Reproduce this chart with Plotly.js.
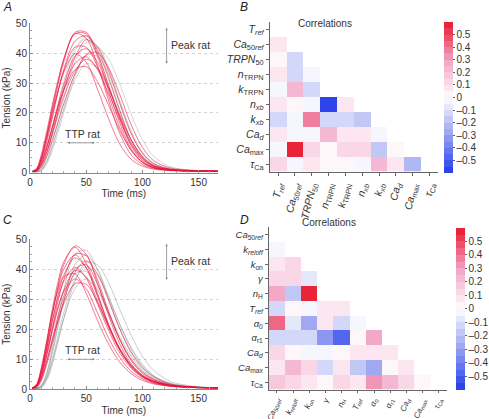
<!DOCTYPE html>
<html><head><meta charset="utf-8">
<script src="https://cdn.plot.ly/plotly-3.0.1.min.js"></script>
<style>html,body{margin:0;padding:0;background:#fff;}#g{width:489px;height:419px;}</style>
</head><body><div id="g"></div>
<script>
// ---------- DATA ----------
const timeMs = [2,6,10,15,20,25,30,40,50,60,70,80,90,100,110,125,145,167];

// Panel A – rat model fitted (red) and reference (grey) tension transients (kPa)
const redA = [
 [0.4,1.5,6,14,23,31,38,46.5,45,36,24,13,6,2.8,1.4,0.8,0.5,0.45],
 [0.4,1,4.5,12,21,29.5,37,47,47,40,29,18,9,4,1.8,0.9,0.6,0.5],
 [0.4,0.7,3,8.5,15.5,23,29.5,39,41.5,37,28.5,18.5,10,4.8,2.2,1,0.6,0.5],
 [0.4,0.6,2.5,7,13,19.5,25.5,34,38,35,28,19,11,5.5,2.5,1.1,0.6,0.5],
 [0.4,0.6,2.2,7,13.5,20.5,27.5,38.5,44.5,42,34,23,13,6.5,3,1.2,0.7,0.5],
 [0.4,1.2,5,12.5,20.5,27.5,33.5,39.8,37,28,18,9.5,4.5,2.2,1.2,0.7,0.5,0.45],
 [0.4,0.9,3.8,10.5,18.5,27,34.5,44,45.8,41,31.5,20.5,11,5.2,2.3,1,0.6,0.5],
 [0.4,0.9,3.5,9,15.5,22,27.5,34.5,35.5,30.5,22.5,14,7.5,3.5,1.7,0.9,0.6,0.5],
 [0.4,1.1,4.6,11.5,19.5,27.5,34,42,42,35.5,25.5,15,7.5,3.4,1.6,0.8,0.5,0.45],
 [0.4,0.5,1.8,5.5,11,17,23,33,39.5,40.2,35,26,16,8.5,4,1.6,0.8,0.5],
 [0.4,1.2,5,13,22,30.5,38,46.5,46.5,39,27.5,16.5,8,3.6,1.7,0.9,0.6,0.5],
 [0.4,0.8,3.2,8.5,15,22,28,36.5,38.8,34.5,26.5,17.5,9.5,4.6,2.1,1,0.6,0.5]
];
const greyA = [
 [0.3,0.3,0.8,4,10,17,24.5,37,43.5,42.5,35,24,13.5,6.5,3,1.2,0.6,0.5],
 [0.3,0.3,0.7,3.5,8.5,15,21.5,33,39.2,39,33,23.5,14,7,3.2,1.3,0.7,0.5],
 [0.3,0.4,1.2,5.5,12.5,20.5,28.5,40.5,45.8,42,32.5,21,11,5,2.3,1,0.6,0.5],
 [0.3,0.3,0.9,4,9,15,21,31,36.5,35,28.5,19.5,11,5.3,2.4,1,0.6,0.5],
 [0.3,0.3,0.6,3,7.5,13.5,20,32,39.5,41.8,38,29.5,19.5,11,5.5,2,0.8,0.5],
 [0.3,0.4,1.5,6.5,14,22.5,30.5,41.5,44.8,39.5,29.5,18.5,9.5,4.3,2,0.9,0.6,0.5]
];

// Panel C – human model fitted (red) and reference (grey) tension transients (kPa)
const redC = [
 [0.4,1.5,6.5,16,27,36,42.5,47.3,42,32,21.5,13,7.5,4.2,2.4,1.2,0.6,0.45],
 [0.4,1.2,5,13.5,23,31.5,38,43.8,40.5,31.5,21.5,13.5,8,4.5,2.6,1.3,0.7,0.5],
 [0.4,1,4.2,11.5,19.5,27,33,39.6,37.5,29.5,20.5,13,7.8,4.5,2.6,1.3,0.7,0.5],
 [0.4,1,4,11.5,20.5,29.5,36.5,45,44.5,36.5,26,16.5,9.5,5.3,3,1.4,0.7,0.5],
 [0.4,1.3,5,12.5,20.5,27.5,32.5,36.8,33.5,25.5,17,10.5,6,3.5,2,1,0.6,0.45],
 [0.4,1.3,5.5,14.5,25,34.5,41.5,47.8,45,35.5,24.5,15,8.5,4.7,2.7,1.3,0.7,0.5],
 [0.4,0.8,3.3,9.5,17,24.5,31,40,41.5,35,25.5,16.5,10,5.8,3.3,1.5,0.7,0.5],
 [0.4,1.8,7,16.5,26,33,37.5,38.5,32,23,15,9,5.2,3,1.8,1,0.6,0.45],
 [0.4,1.6,6.5,15.5,25.5,34,40,44.8,40.5,31,21,13,7.5,4.2,2.4,1.2,0.6,0.45],
 [0.4,0.7,2.8,8.5,15.5,23,29.5,39,42.8,38.5,29.5,20,12.5,7.3,4.2,1.8,0.8,0.5],
 [0.4,0.9,3.6,9.5,16.5,23,28.5,35.2,35,29,21,13.5,8,4.6,2.6,1.3,0.7,0.5],
 [0.4,1.4,5.8,14,23,30.5,36,40.6,37,28.5,19.5,12,7,4,2.3,1.1,0.6,0.45]
];
const greyC = [
 [0.3,0.3,0.8,4.5,12,21,29.5,41.5,44.8,40,31,21.5,13.5,7.8,4.3,1.8,0.8,0.5],
 [0.3,0.3,0.7,3.8,10,18,25.5,36.5,40.8,38,30.5,21.5,14,8.3,4.6,2,0.9,0.5],
 [0.3,0.4,1.2,5.5,14,24,33,45,46.3,40,30,20,12,6.8,3.8,1.6,0.7,0.5],
 [0.3,0.3,0.8,3.8,9.5,16.5,23.5,33.5,36.8,33,25.5,17.5,11,6.3,3.5,1.5,0.7,0.5],
 [0.3,0.3,0.6,3,8.5,16,23.5,36,42.2,41.5,35.5,26.5,18,11,6.3,2.6,1,0.5],
 [0.3,0.4,1.3,5.5,13,21.5,29,38.5,39.2,33.5,25,16.5,10,5.7,3.2,1.4,0.7,0.5]
];

// Panel B – correlation matrix (lower triangle)
const paramsB = ['<i>T</i><sub><i>ref</i></sub>','<i>Ca</i><sub>50<i>ref</i></sub>','<i>TRPN</i><sub>50</sub>',
 '<i>n</i><sub>TRPN</sub>','<i>k</i><sub>TRPN</sub>','<i>n</i><sub><i>xb</i></sub>','<i>k</i><sub><i>xb</i></sub>',
 '<i>Ca</i><sub><i>d</i></sub>','<i>Ca</i><sub>max</sub>','<i>τ</i><sub>Ca</sub>'];
const corrB = [
 [],
 [0.1],
 [0,-0.1],
 [0.1,-0.1,-0.05],
 [-0.03,0.2,-0.1],
 [0.1,0,-0.05,-0.57,0.08],
 [-0.1,-0.03,0.35,-0.1,-0.15,-0.2],
 [0.08,-0.02,-0.02,0.2,0.1,0.1,-0.05],
 [-0.02,0.59,0.12,0,0.15,0.12,-0.2,0],
 [0.12,-0.05,0.05,0.04,0,-0.03,0.2,0.06,-0.22]
];

// Panel D – correlation matrix (lower triangle)
const paramsD = ['<i>Ca</i><sub>50<i>ref</i></sub>','<i>k</i><sub><i>reloff</i></sub>','<i>k</i><sub>on</sub>','<i>γ</i>',
 '<i>n</i><sub>H</sub>','<i>T</i><sub><i>ref</i></sub>','<i>α</i><sub>0</sub>','<i>α</i><sub>r1</sub>',
 '<i>Ca</i><sub><i>d</i></sub>','<i>Ca</i><sub>max</sub>','<i>τ</i><sub>Ca</sub>'];
const corrD = [
 [],
 [-0.03],
 [0.08,0.12],
 [0.12,0.12,-0.08],
 [0.25,-0.2,0.59],
 [-0.1,0,-0.02,0.08,0.08],
 [0.4,-0.08,-0.25,0.05,-0.12,-0.03],
 [-0.1,-0.1,-0.15,-0.35,-0.5,0,0.28],
 [0.12,0.03,-0.03,-0.05,0,0.06,0.08,0.05],
 [0.06,0.2,0.12,-0.15,0.08,-0.2,-0.28,0,0.08],
 [0.18,0.15,0.05,0.04,0.12,0.05,0.3,0.2,0.15,0]
];
const cbTicks = [-0.5,-0.4,-0.3,-0.2,-0.1,0,0.1,0.2,0.3,0.4,0.5];

// ---------- BUILD ----------
const W = 489, H = 419;
const px = (a,b) => [a/W, b/W];
const py = (top,bottom) => [(H-bottom)/H, (H-top)/H];
const FONT = 'Liberation Sans, Arial, sans-serif';
const TXT = '#333';

// discrete blue-white-red colour scale, 24 bands between -0.6 and 0.6
const anchors = [[-0.6,[35,60,235]],[-0.3,[150,160,240]],[0,[255,255,255]],[0.3,[242,160,195]],[0.6,[232,25,45]]];
function colAt(v){
  for(let i=0;i<anchors.length-1;i++){
    const [v0,c0]=anchors[i],[v1,c1]=anchors[i+1];
    if(v>=v0 && v<=v1){const f=(v-v0)/(v1-v0);
      return 'rgb('+c0.map((c,k)=>Math.round(c+(c1[k]-c)*f)).join(',')+')';}
  }
  return 'rgb(255,255,255)';
}
const nb = 24, cs = [];
for(let i=0;i<nb;i++){
  const c = colAt(-0.6 + (i+0.5)*1.2/nb);
  cs.push([i/nb, c]); cs.push([(i+1)/nb, c]);
}

function fullMatrix(rows,n){
  return rows.map(r => { const a=[]; for(let j=0;j<n;j++) a.push(j<r.length? r[j] : null); return a; });
}

const traces = [];
function addCurves(arr, color, op, xa, ya, w){
  arr.forEach(v => traces.push({x: timeMs, y: v, type:'scatter', mode:'lines', xaxis:xa, yaxis:ya,
    line:{color:color, width:w, shape:'spline', smoothing:0.9}, opacity:op, hoverinfo:'skip', showlegend:false}));
}
addCurves(greyA,'rgb(135,145,145)',0.4,'x','y',0.9);
addCurves(redA,'rgb(232,20,60)',0.6,'x','y',0.95);
addCurves(greyC,'rgb(135,145,145)',0.5,'x3','y3',0.9);
addCurves(redC,'rgb(232,20,60)',0.6,'x3','y3',0.95);

function heat(params, rows, xa, ya, cbx, cby, cblen){
  const n = params.length, idx = params.map((_,i)=>i);
  return {type:'heatmap', x: idx, y: idx, z: fullMatrix(rows,n), xaxis:xa, yaxis:ya,
    zmin:-0.6, zmax:0.6, colorscale: cs, hoverinfo:'skip', xgap:0, ygap:0,
    colorbar:{x:cbx, xanchor:'left', y:cby, yanchor:'middle', len:cblen, lenmode:'fraction',
      thickness:9, thicknessmode:'pixels', outlinewidth:0, ticks:'outside', ticklen:2, tickcolor:'#666',
      tickvals: cbTicks, ticktext: cbTicks.map(v => v===0?'0':(v<0?'\u2013'+Math.abs(v):String(v))),
      tickfont:{size:10, color:TXT, family:FONT}, ypad:0, xpad:0}};
}
traces.push(heat(paramsB, corrB, 'x2','y2', 449/W, (H-97.5)/H, 151/H));
traces.push(heat(paramsD, corrD, 'x4','y4', 460.5/W, (H-308.6)/H, 162.3/H));

function lineAxisX(dom, anchor){
  return {domain:dom, anchor:anchor, range:[0,167], showgrid:false, zeroline:false,
    showline:true, linecolor:'#888', linewidth:1, ticks:'inside', ticklen:3, tickcolor:'#888',
    tickvals:[0,50,100,150], tickfont:{size:10, color:TXT, family:FONT},
    minor:{dtick:10, ticks:'inside', ticklen:2, tickcolor:'#aaa'},
    title:{text:'Time (ms)', font:{size:10, color:TXT, family:FONT}, standoff:3}, automargin:false};
}
function lineAxisY(dom, anchor){
  return {domain:dom, anchor:anchor, range:[0,50], showgrid:true, gridcolor:'#d2d2d2', griddash:'dot', gridwidth:1,
    zeroline:false, showline:true, linecolor:'#888', linewidth:1, ticks:'inside', ticklen:3, tickcolor:'#888',
    tickvals:[0,10,20,30,40,50], tickfont:{size:10, color:TXT, family:FONT},
    minor:{dtick:2.5, ticks:'inside', ticklen:2, tickcolor:'#aaa', showgrid:false},
    title:{text:'Tension (kPa)', font:{size:10, color:TXT, family:FONT}, standoff:3}, automargin:false};
}
function heatAxisX(dom, anchor, params, fs, ang, tl){
  const n=params.length;
  return {domain:dom, anchor:anchor, range:[-0.5,n-0.5], showgrid:false, zeroline:false, showline:true,
    linecolor:'#666', ticks:'outside', ticklen:tl, tickcolor:'#666', tickvals:params.map((_,i)=>i), ticktext:params,
    tickangle:ang, tickfont:{size:fs, color:TXT, family:FONT}, automargin:false};
}
function heatAxisY(dom, anchor, params, fs){
  const n=params.length;
  return {domain:dom, anchor:anchor, range:[n-0.5,-0.5], showgrid:false, zeroline:false, showline:true,
    linecolor:'#666', ticks:'outside', ticklen:3, tickcolor:'#666', tickvals:params.map((_,i)=>i), ticktext:params,
    tickfont:{size:fs, color:TXT, family:FONT}, automargin:false};
}

const ann = [];
function rangeMarks(xa, ya){
  // Peak range bar (vertical) and TTP range bar (horizontal)
  ann.push({xref:xa, yref:ya, x:121.5, y:48.5, axref:xa, ayref:ya, ax:121.5, ay:36,
    showarrow:true, arrowside:'end+start', arrowhead:2, arrowsize:0.6, arrowwidth:0.8, arrowcolor:'#888', text:''});
  ann.push({xref:xa, yref:ya, x:124, y:42.7, text:'Peak rat', showarrow:false, xanchor:'left',
    font:{size:10.5, color:TXT, family:FONT}});
  ann.push({xref:xa, yref:ya, x:33.5, y:10, axref:xa, ayref:ya, ax:59, ay:10,
    showarrow:true, arrowside:'end+start', arrowhead:2, arrowsize:0.6, arrowwidth:0.8, arrowcolor:'#888', text:''});
  ann.push({xref:xa, yref:ya, x:46.3, y:10.3, text:'TTP rat', showarrow:false, yanchor:'bottom',
    font:{size:10.5, color:TXT, family:FONT}});
}
rangeMarks('x','y');
rangeMarks('x3','y3');

const letter = (t,xp,yp) => ann.push({xref:'paper', yref:'paper', x:xp/W, y:(H-yp)/H, text:'<i>'+t+'</i>',
  showarrow:false, xanchor:'left', yanchor:'middle', font:{size:12, color:'#222', family:FONT}});
letter('A',1,7); letter('B',240,7); letter('C',1,220); letter('D',240,220);
ann.push({xref:'paper', yref:'paper', x:357.5/W, y:(H-16)/H, text:'Correlations', showarrow:false,
  font:{size:10, color:TXT, family:FONT}});
ann.push({xref:'paper', yref:'paper', x:361.5/W, y:(H-222)/H, text:'Correlations', showarrow:false,
  font:{size:10, color:TXT, family:FONT}});

const layout = {
  width:W, height:H, margin:{l:0,r:0,t:0,b:0}, paper_bgcolor:'#fff', plot_bgcolor:'rgba(0,0,0,0)',
  showlegend:false, font:{family:FONT, size:10, color:TXT},
  xaxis: lineAxisX(px(30.3,220),'y'),
  yaxis: lineAxisY(py(23.3,172.7),'x'),
  xaxis3: lineAxisX(px(30.3,220),'y3'),
  yaxis3: lineAxisY(py(239.3,389.3),'x3'),
  xaxis2: heatAxisX(px(272.5,442.5),'y2',paramsB,10.5,-76,3),
  yaxis2: heatAxisY(py(21.5,171.5),'x2',paramsB,10.5),
  xaxis4: heatAxisX(px(271.5,451.5),'y4',paramsD,8,-68,2),
  yaxis4: heatAxisY(py(227.3,389.7),'x4',paramsD,9.5),
  annotations: ann
};
Plotly.newPlot('g', traces, layout, {staticPlot:true, displayModeBar:false});
</script></body></html>
